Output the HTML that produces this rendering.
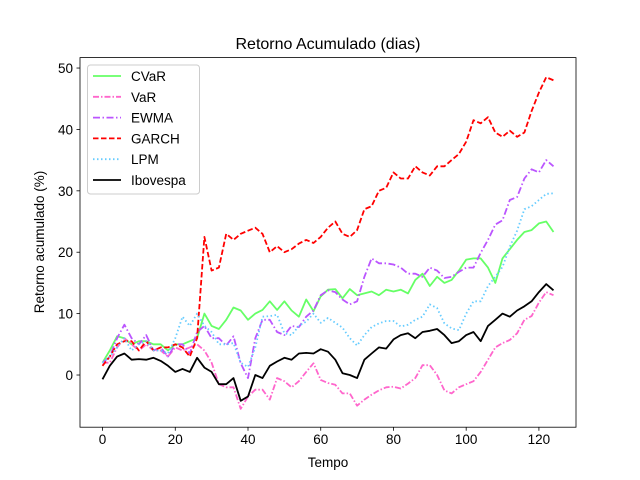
<!DOCTYPE html>
<html><head><meta charset="utf-8"><style>
body{margin:0;background:#fff;}
svg{display:block;font-family:"Liberation Sans","DejaVu Sans",sans-serif;}
</style></head><body>
<svg id="chart" width="640" height="480" viewBox="0 0 640 480">
<rect x="0" y="0" width="640" height="480" fill="#fff"/>
<text x="328" y="49" font-size="16" text-anchor="middle">Retorno Acumulado (dias)</text>
<text x="328" y="467" font-size="13.5" text-anchor="middle">Tempo</text>
<text x="44" y="242" font-size="13.5" text-anchor="middle" transform="rotate(-90 44 242)">Retorno acumulado (%)</text>
<g id="plot"></g>
</svg>
<script>
const days = [0,2,4,6,8,10,12,14,16,18,20,22,24,26,28,30,32,34,36,38,40,42,44,46,48,50,52,54,56,58,60,62,64,66,68,70,72,74,76,78,80,82,84,86,88,90,92,94,96,98,100,102,104,106,108,110,112,114,116,118,120,122,124];
const cvar = [2,4,6.3,6,5,5.5,5.5,5,5,4, 5,5,5.5,6,10,8,7.5,9,11,10.5, 9,10,10.6,12,10.6,12,10.5,9.5,12.3,10.4, 12.8,13.9,14,12.5,14,13,13.3,13.6,13,13.9, 13.6,13.9,13.3,15.5,16.5,14.5,16,15,15.5,17, 18.8,19,19,17.5,15,19,20.5,22,23.3,23.6, 24.7,25,23.3];
const varS = [2,2,4.5,6,5,4,5,4,4,3, 4.5,4,4.5,5,4,2,-1.5,-2,-2,-5.5, -3.5,-2.4,-2.4,-4,-0.5,-1,-2,-1,0.5,1.9, -0.8,-1.3,-1.6,-3,-3,-5,-4,-3.2,-2.5,-2, -1.9,-2.2,-1.4,-0.5,1.6,1.6,0,-2.5,-3,-2, -1.5,-1,0.5,2.5,4.5,5.2,5.7,6.8,9,9.6, 11.8,13.5,13];
const ewma = [2,3,6,8.2,6,5,6.5,4,4.5,3, 5,5,3.5,7,8,6,6,4.8,6.3,1.9, -0.5,6,9,9,7,6.5,8,7.8,9.5,10.5, 13,13.8,13.5,12.3,11.5,12,16,19,18.2,18.2, 18,17.5,16.5,16.5,16,17.5,17,15.8,16,16.8, 17.5,17.5,19.9,22,24.5,25.2,28.5,29,32,33.5, 33,35,34];
const garch = [1.5,3,5,5.5,5.5,4,5.5,4,4.5,4.5, 5,4.5,3,6,22.5,17,17.5,23,22,23, 23.5,24,23,20,21,20,20.5,21.4,22,21.5, 22.5,24,25,23,22.5,23.6,27,27.5,30,30.5, 33,32,32,34,33,32.5,34,34,35,36, 38,41.5,41,42,39.5,38.8,39.8,38.8,39.5,43, 46,48.5,48];
const lpm = [2,3,4.5,6,4,5,5.5,4,4,3.5, 6,9.5,8,10,8,7,5,5,5.2,2, 1.3,4.5,9.5,9.6,9.8,6.8,6.5,8,8.7,10, 8.5,9.3,8.5,7.7,6,4.8,6.5,7.8,8.4,8.8, 8.8,7.9,8.2,9,9.5,11.5,10.9,8.4,7.6,7.3, 10,12,12,14.5,16,17.6,20.9,23.5,27,27.5, 28.5,29.5,29.6];
const ibov = [-0.7,1.5,3,3.5,2.5,2.6,2.5,2.8,2.3,1.5, 0.5,1,0.5,2.8,1.2,0.5,-1.5,-1.5,-0.5,-4.2, -3.5,0,-0.5,1.5,2.2,2.8,2.5,3.5,3.6,3.5, 4.2,3.8,2.5,0.3,0,-0.5,2.5,3.5,4.5,4.3, 5.8,6.5,6.8,6,7,7.2,7.5,6.5,5.2,5.5, 6.5,7,5.5,8,9,10,9.5,10.5,11.2,12, 13.5,14.8,13.8];
const xTicks = [0,20,40,60,80,100,120];
const yTicks = [0,10,20,30,40,50];
const seriesNames = ["CVaR","VaR","EWMA","GARCH","LPM","Ibovespa"];

const L=80,R=576,T=57.6,B=427.2;
const xMin=-6.2,xMax=130.2,yMin=-8.5,yMax=51.7;
const sx=v=>L+(v-xMin)/(xMax-xMin)*(R-L);
const sy=v=>B-(v-yMin)/(yMax-yMin)*(B-T);
const NS="http://www.w3.org/2000/svg";
const g=document.getElementById('plot');
function mk(tag,attrs,parent){const e=document.createElementNS(NS,tag);for(const k in attrs)e.setAttribute(k,attrs[k]);(parent||g).appendChild(e);return e;}

const styles=[
 {c:"#66ff66",d:""},
 {c:"#ff66cc",d:"6,2,1.5,2"},
 {c:"#bb55ff",d:"7,2.5,1.5,2.5"},
 {c:"#ff0000",d:"5.5,2.5"},
 {c:"#66ccff",d:"1.5,2.5"},
 {c:"#000000",d:""}
];
const data=[cvar,varS,ewma,garch,lpm,ibov];
const ids=["cvar","var","ewma","garch","lpm","ibovespa"];
data.forEach((arr,i)=>{
  const pts=arr.map((v,j)=>sx(days[j]).toFixed(1)+","+sy(v).toFixed(1)).join(" ");
  const p=mk('polyline',{points:pts,fill:"none",stroke:styles[i].c,"stroke-width":"1.8","stroke-dasharray":styles[i].d,"stroke-linejoin":"round"});
  
  
});

const frame=mk('rect',{x:L,y:T,width:R-L,height:B-T,fill:"none",stroke:"#000","stroke-width":"0.8"});



xTicks.forEach(t=>{
  const x=sx(t);
  const tk=mk('line',{x1:x,y1:B,x2:x,y2:B+3.5,stroke:"#000","stroke-width":"0.8"});
  
  
  const lb=mk('text',{x:x,y:B+17,"font-size":"13.5","text-anchor":"middle"});
  lb.textContent=t;
  
  
});
yTicks.forEach(t=>{
  const y=sy(t);
  const tk=mk('line',{x1:L-3.5,y1:y,x2:L,y2:y,stroke:"#000","stroke-width":"0.8"});
  
  
  const lb=mk('text',{x:L-7,y:y+5,"font-size":"13.5","text-anchor":"end"});
  lb.textContent=t;
  
  
});

const leg=mk('g',{});


mk('rect',{x:87.5,y:65,width:112,height:129,rx:3,fill:"#fff","fill-opacity":"0.8",stroke:"#ccc","stroke-width":"1"},leg);
seriesNames.forEach((n,i)=>{
  const y=76+i*20.8;
  const e=mk('g',{},leg);
  
  
  mk('line',{x1:93,y1:y,x2:121,y2:y,stroke:styles[i].c,"stroke-width":"1.8","stroke-dasharray":styles[i].d},e);
  const t=mk('text',{x:131,y:y+5,"font-size":"13.5"},e);
  t.textContent=n;
});
</script>
</body></html>
